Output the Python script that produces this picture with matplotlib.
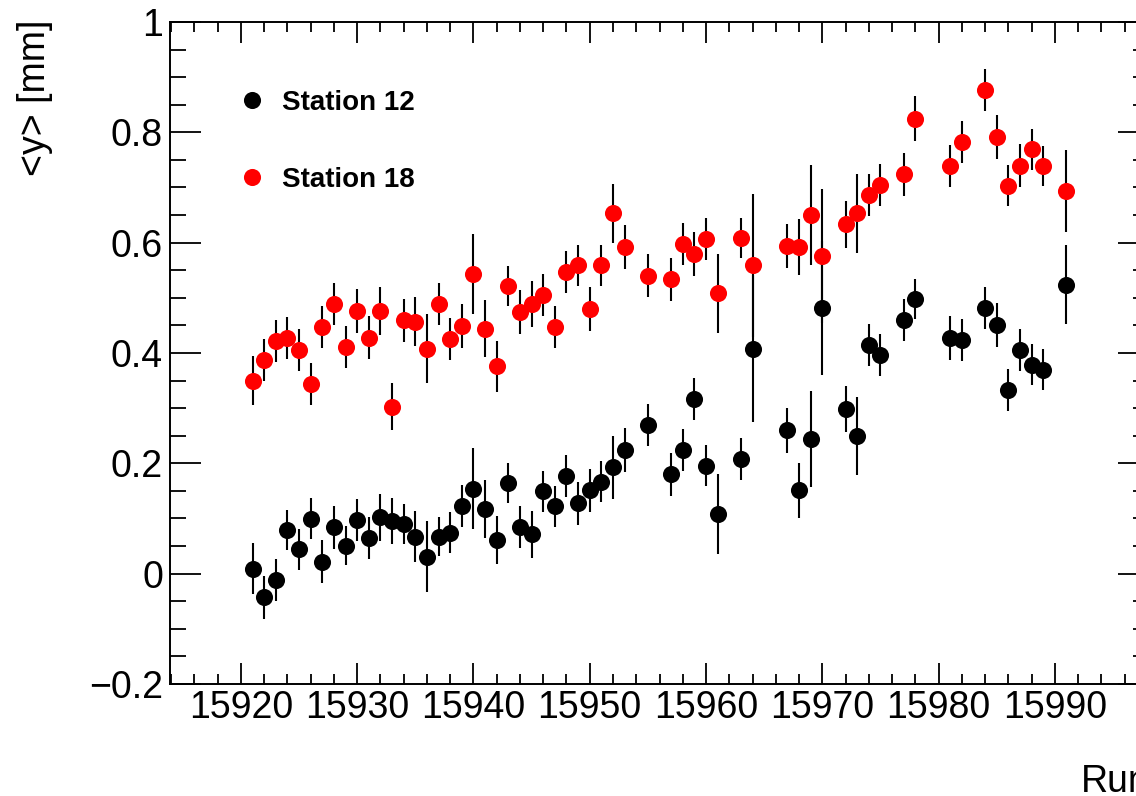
#!/usr/bin/env python3
"""
Mean y position per run for two stations (ROOT-style scatter with error bars).
"""

import matplotlib
matplotlib.use("Agg")
import matplotlib.pyplot as plt
from matplotlib.ticker import MultipleLocator, FuncFormatter

runs = [
    15921, 15922, 15923, 15924, 15925, 15926, 15927, 15928, 15929, 15930,
    15931, 15932, 15933, 15934, 15935, 15936, 15937, 15938, 15939, 15940,
    15941, 15942, 15943, 15944, 15945, 15946, 15947, 15948, 15949, 15950,
    15951, 15952, 15953, 15955, 15957, 15958, 15959, 15960, 15961, 15963,
    15964, 15967, 15968, 15969, 15970, 15972, 15973, 15974, 15975, 15977,
    15978, 15981, 15982, 15984, 15985, 15986, 15987, 15988, 15989, 15991,
]

station12_y = [
    0.009, -0.043, -0.011, 0.079, 0.044, 0.100, 0.022, 0.084, 0.051, 0.097,
    0.064, 0.102, 0.096, 0.090, 0.067, 0.031, 0.067, 0.074, 0.122, 0.154,
    0.117, 0.061, 0.164, 0.084, 0.071, 0.149, 0.122, 0.177, 0.128, 0.151,
    0.167, 0.193, 0.224, 0.270, 0.180, 0.225, 0.317, 0.196, 0.108, 0.208,
    0.408, 0.260, 0.151, 0.244, 0.482, 0.299, 0.250, 0.414, 0.396, 0.459,
    0.498, 0.427, 0.423, 0.482, 0.450, 0.333, 0.405, 0.379, 0.370, 0.524,
]
station12_err = [
    0.046, 0.039, 0.038, 0.037, 0.037, 0.038, 0.039, 0.039, 0.036, 0.038,
    0.038, 0.042, 0.042, 0.037, 0.046, 0.064, 0.035, 0.037, 0.038, 0.073,
    0.052, 0.044, 0.036, 0.038, 0.042, 0.037, 0.037, 0.038, 0.039, 0.039,
    0.037, 0.057, 0.040, 0.038, 0.039, 0.038, 0.038, 0.037, 0.072, 0.038,
    0.133, 0.041, 0.050, 0.087, 0.121, 0.042, 0.071, 0.038, 0.038, 0.038,
    0.037, 0.040, 0.038, 0.038, 0.040, 0.038, 0.038, 0.037, 0.037, 0.072,
]

station18_y = [
    0.350, 0.388, 0.421, 0.428, 0.406, 0.344, 0.447, 0.489, 0.411, 0.476,
    0.428, 0.476, 0.303, 0.459, 0.457, 0.408, 0.489, 0.425, 0.449, 0.543,
    0.444, 0.376, 0.521, 0.475, 0.489, 0.505, 0.447, 0.547, 0.559, 0.479,
    0.559, 0.653, 0.592, 0.540, 0.534, 0.598, 0.579, 0.607, 0.508, 0.609,
    0.559, 0.594, 0.592, 0.650, 0.576, 0.633, 0.653, 0.687, 0.704, 0.724,
    0.825, 0.739, 0.782, 0.877, 0.791, 0.703, 0.739, 0.769, 0.739, 0.694,
]
station18_err = [
    0.044, 0.038, 0.038, 0.038, 0.038, 0.038, 0.038, 0.038, 0.038, 0.040,
    0.039, 0.043, 0.043, 0.039, 0.044, 0.062, 0.038, 0.038, 0.040, 0.073,
    0.052, 0.046, 0.036, 0.040, 0.042, 0.038, 0.038, 0.038, 0.037, 0.040,
    0.037, 0.054, 0.040, 0.039, 0.039, 0.038, 0.040, 0.038, 0.072, 0.036,
    0.130, 0.040, 0.050, 0.090, 0.122, 0.043, 0.072, 0.038, 0.038, 0.039,
    0.040, 0.038, 0.038, 0.038, 0.040, 0.037, 0.039, 0.037, 0.037, 0.074,
]

W, H = 1136, 796
FONT = ["Liberation Sans", "DejaVu Sans"]


def y_label(v, pos):
    s = f"{v:g}"
    if s in ("-0", "0.0"):
        s = "0"
    return s.replace("-", "\u2212")


def main():
    plt.rcParams["font.family"] = FONT

    fig = plt.figure(figsize=(W / 100, H / 100), dpi=100)
    # frame runs past the right edge, as in the cropped original
    ax = fig.add_axes([170 / W, 112 / H, 979 / W, 662 / H])

    markers = []
    for y, err, color, label in [
        (station12_y, station12_err, "black", "Station 12"),
        (station18_y, station18_err, "red", "Station 18"),
    ]:
        cont = ax.errorbar(runs, y, yerr=err, fmt="o", color=color, ecolor="black",
                           elinewidth=1.5, capsize=0, markersize=12.3,
                           markeredgewidth=0, label=label)
        markers.append(cont[0])

    ax.set_xlim(15913.9, 15998.1)
    ax.set_ylim(-0.2, 1.0)

    ax.xaxis.set_major_locator(MultipleLocator(10))
    ax.xaxis.set_minor_locator(MultipleLocator(2))
    ax.yaxis.set_major_locator(MultipleLocator(0.2))
    ax.yaxis.set_minor_locator(MultipleLocator(0.05))
    ax.yaxis.set_major_formatter(FuncFormatter(y_label))

    ax.tick_params(axis="both", which="both", direction="in",
                   top=True, right=True, width=1.3, labelsize=27)
    ax.tick_params(axis="x", which="major", length=15, pad=4)
    ax.tick_params(axis="x", which="minor", length=7.5)
    ax.tick_params(axis="y", which="major", length=22.5, pad=5)
    ax.tick_params(axis="y", which="minor", length=11.5)
    for spine in ax.spines.values():
        spine.set_linewidth(1.4)

    fig.text(35 / W, 1 - 20 / H, "<y> [mm]", rotation=90, ha="center",
             va="top", fontsize=27)
    fig.text(1081 / W, 4 / H, "Run", ha="left", va="baseline", fontsize=27)

    ax.legend(markers, ["Station 12", "Station 18"], loc="upper left",
              bbox_to_anchor=(238 / W, 1 - 90 / H),
              bbox_transform=fig.transFigure, frameon=False,
              numpoints=1, handlelength=1.0, handletextpad=0.58,
              labelspacing=1.82, borderpad=0, borderaxespad=0,
              prop={"family": FONT, "weight": "bold", "size": 20})

    fig.savefig("out.png", dpi=100)
    plt.close(fig)
    print("Saved: out.png")


if __name__ == "__main__":
    main()
